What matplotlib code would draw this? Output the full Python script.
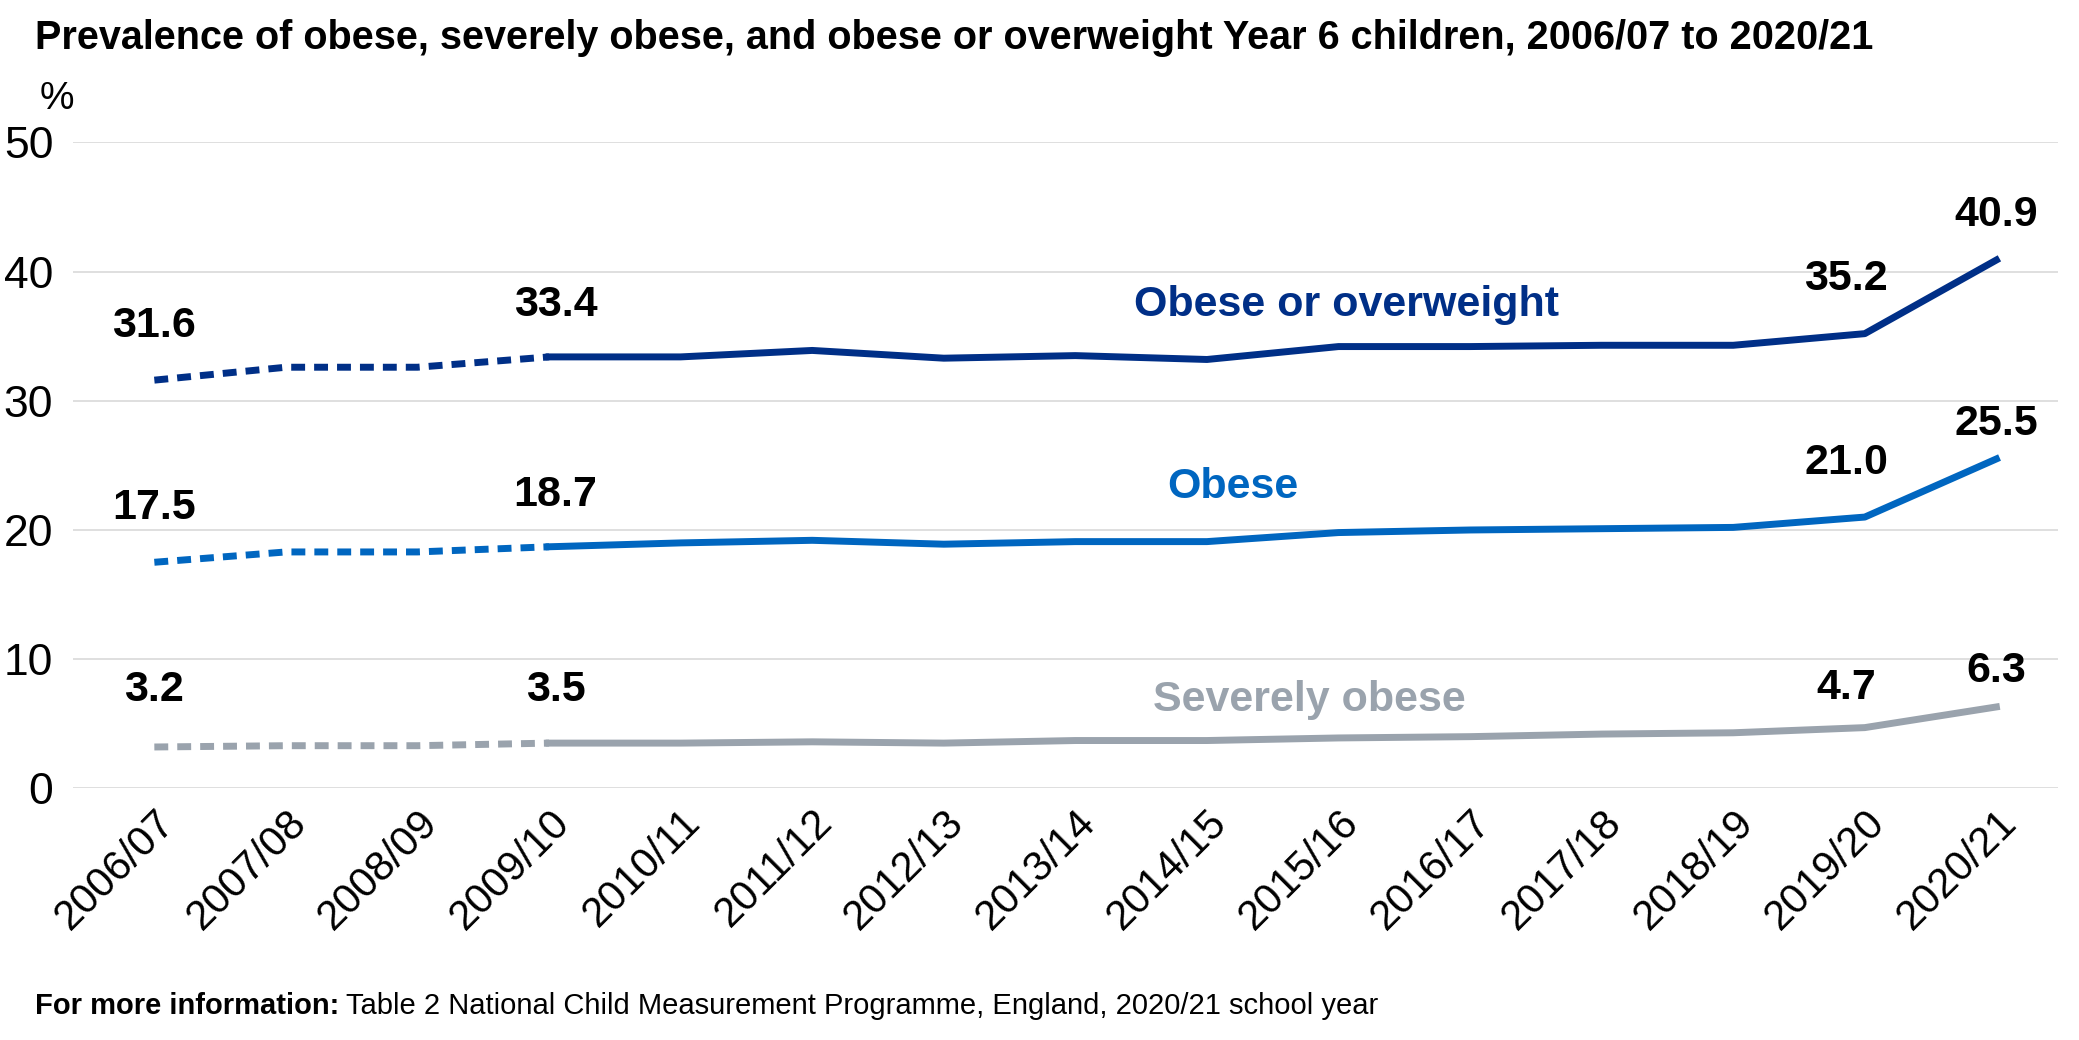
import matplotlib
matplotlib.use("Agg")
import matplotlib.pyplot as plt

plt.rcParams['font.family'] = ['Liberation Sans', 'DejaVu Sans']

years = ["2006/07","2007/08","2008/09","2009/10","2010/11","2011/12","2012/13","2013/14",
         "2014/15","2015/16","2016/17","2017/18","2018/19","2019/20","2020/21"]
obese_overweight = [31.6,32.6,32.6,33.4,33.4,33.9,33.3,33.5,33.2,34.2,34.2,34.3,34.3,35.2,40.9]
obese = [17.5,18.3,18.3,18.7,19.0,19.2,18.9,19.1,19.1,19.8,20.0,20.1,20.2,21.0,25.5]
severely = [3.2,3.3,3.3,3.5,3.5,3.6,3.5,3.7,3.7,3.9,4.0,4.2,4.3,4.7,6.3]

c_oo, c_o, c_s = "#002f87", "#0066c0", "#9aa3ad"

fig = plt.figure(figsize=(20.79, 10.4), dpi=100)
ax = fig.add_axes([0.035, 0.242, 0.955, 0.621])
x = list(range(len(years)))
for vals, c, name, lx, ly in [(obese_overweight, c_oo, "Obese or overweight", 9.06, 37.4),
                             (obese, c_o, "Obese", 8.2, 23.3),
                             (severely, c_s, "Severely obese", 8.78, 6.8)]:
    ax.plot(x[:4], vals[:4], color=c, lw=5, ls=(0, (2.0, 1.3)))
    ax.plot(x[3:], vals[3:], color=c, lw=5)
    ax.text(lx, ly, name, color=c, fontsize=31, fontweight='bold', ha='center', va='center')
    offs = {0: (0, 4.2), 3: (0.05, 4.0), 13: (-0.14, 4.2), 14: (0, 3.5)}
    if vals is obese:
        offs[14] = (0, 2.7)
    if vals is severely:
        offs = {0: (0, 4.4), 3: (0.05, 4.1), 13: (-0.14, 3.1), 14: (0, 2.8)}
    for i, (dx, dy) in offs.items():
        ax.text(i + dx, vals[i] + dy, f"{vals[i]:.1f}", fontsize=31, fontweight='bold',
                ha='center', va='center', color='black')

ax.set_xlim(-0.62, 14.47)
ax.set_ylim(0, 50)
ax.set_yticks([0, 10, 20, 30, 40, 50])
ax.set_xticks(x)
ax.set_xticklabels(years, rotation=45, ha='right', rotation_mode='anchor')
ax.tick_params(axis='y', labelsize=32, length=0, pad=14)
ax.tick_params(axis='x', labelsize=30, length=0, pad=10)
ax.grid(axis='y', color='#d9d9d9', lw=1.2)
ax.set_axisbelow(True)
for s in ax.spines.values():
    s.set_visible(False)

fig.text(0.017, 0.963, "Prevalence of obese, severely obese, and obese or overweight Year 6 children, 2006/07 to 2020/21",
         fontsize=28.5, fontweight='bold', va='center')
fig.text(0.019, 0.905, "%", fontsize=28, va='center')
t = fig.text(0.017, 0.033, "For more information:", fontsize=21, fontweight='bold', va='center')
fig.canvas.draw()
bb = t.get_window_extent()
fig.text(bb.x1 / fig.bbox.width + 0.003, 0.033,
         "Table 2 National Child Measurement Programme, England, 2020/21 school year",
         fontsize=21, va='center')
fig.savefig("out.png", dpi=100)
